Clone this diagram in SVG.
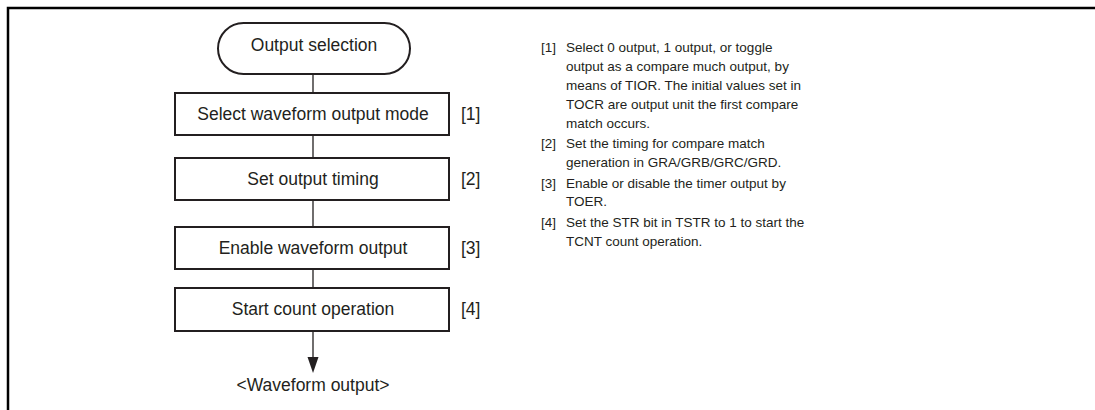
<svg xmlns="http://www.w3.org/2000/svg" width="1095" height="410" viewBox="0 0 1095 410">
<style>
.frame{fill:none;stroke:#000;stroke-width:2.5}
.box{fill:#fff;stroke:#231f20;stroke-width:2}
.ln{stroke:#231f20;stroke-width:1.3;fill:none}
.t{font-family:"Liberation Sans",Arial,sans-serif;font-size:17.5px;fill:#231f20}
.c{text-anchor:middle}
.s{font-family:"Liberation Sans",Arial,sans-serif;font-size:13.5px;fill:#231f20}
</style>
<rect width="1095" height="410" fill="#fff"/>
<path class="frame" d="M8,410 V8 H1095"/>
<g id="connectors">
<line class="ln" x1="313" y1="74" x2="313" y2="93"/>
<line class="ln" x1="313" y1="135" x2="313" y2="158"/>
<line class="ln" x1="313" y1="200" x2="313" y2="227"/>
<line class="ln" x1="313" y1="269" x2="313" y2="288"/>
<line class="ln" x1="313" y1="331" x2="313" y2="358"/>
<polygon points="307.5,357 318.5,357 313,373" fill="#231f20"/>
</g>
<g id="start">
<rect class="box" x="218" y="23" width="192" height="51" rx="25.5"/>
<text class="t c" x="314" y="51">Output selection</text>
</g>
<g id="step1">
<rect class="box" x="175" y="93" width="274" height="42"/>
<text class="t c" x="313" y="120">Select waveform output mode</text>
<text class="t" x="461" y="120">[1]</text>
</g>
<g id="step2">
<rect class="box" x="175" y="158" width="274" height="42"/>
<text class="t c" x="313" y="185">Set output timing</text>
<text class="t" x="461" y="185">[2]</text>
</g>
<g id="step3">
<rect class="box" x="175" y="227" width="274" height="42"/>
<text class="t c" x="313" y="254">Enable waveform output</text>
<text class="t" x="461" y="254">[3]</text>
</g>
<g id="step4">
<rect class="box" x="175" y="288" width="274" height="43"/>
<text class="t c" x="313" y="315">Start count operation</text>
<text class="t" x="461" y="315">[4]</text>
</g>
<g id="end">
<text class="t c" x="313" y="391">&lt;Waveform output&gt;</text>
</g>
<g id="notes">
<text class="s" x="541" y="52">[1]</text>
<text class="s" x="566" y="52">Select 0 output, 1 output, or toggle</text>
<text class="s" x="566" y="71">output as a compare much output, by</text>
<text class="s" x="566" y="90">means of TIOR. The initial values set in</text>
<text class="s" x="566" y="109">TOCR are output unit the first compare</text>
<text class="s" x="566" y="128">match occurs.</text>
<text class="s" x="541" y="148">[2]</text>
<text class="s" x="566" y="148">Set the timing for compare match</text>
<text class="s" x="566" y="167">generation in GRA/GRB/GRC/GRD.</text>
<text class="s" x="541" y="188">[3]</text>
<text class="s" x="566" y="188">Enable or disable the timer output by</text>
<text class="s" x="566" y="206">TOER.</text>
<text class="s" x="541" y="227">[4]</text>
<text class="s" x="566" y="227">Set the STR bit in TSTR to 1 to start the</text>
<text class="s" x="566" y="246">TCNT count operation.</text>
</g>
</svg>
